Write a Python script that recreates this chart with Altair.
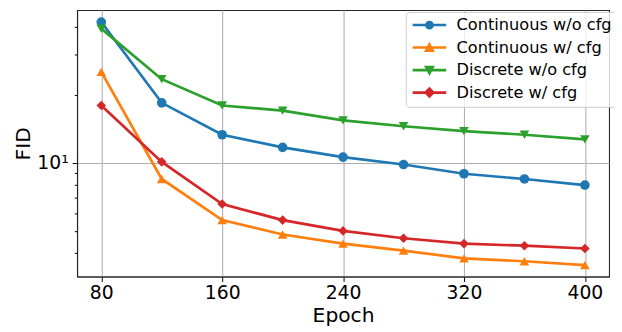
import altair as alt
import pandas as pd

epochs = [80, 120, 160, 200, 240, 280, 320, 360, 400]
series_names = ["Continuous w/o cfg", "Continuous w/ cfg", "Discrete w/o cfg", "Discrete w/ cfg"]
cont_wo = [41.8, 18.4, 13.3, 11.7, 10.6, 9.83, 8.95, 8.49, 7.98]
cont_w = [25.2, 8.49, 5.59, 4.83, 4.40, 4.10, 3.79, 3.68, 3.54]
disc_wo = [39.1, 23.4, 17.9, 17.0, 15.4, 14.5, 13.8, 13.3, 12.7]
disc_w = [17.9, 10.1, 6.58, 5.59, 5.01, 4.65, 4.40, 4.31, 4.19]
colors = ["#1f77b4", "#ff7f0e", "#2ca02c", "#d62728"]
marker_shapes = ["circle", "triangle-up", "triangle-down", "diamond"]
x_ticks = [80, 160, 240, 320, 400]
y_ticks = [4, 5, 6, 7, 8, 9, 10, 20, 30, 40]

# legend glyphs: a short line segment with the marker in the middle
seg = "M-4.25,0L4.25,0"
legend_paths = [
    seg + "M0.8,0A0.8,0.8 0 1,1 -0.8,0A0.8,0.8 0 1,1 0.8,0Z",
    seg + "M0,-0.8L-0.85,0.8L0.85,0.8Z",
    seg + "M0,0.8L-0.85,-0.8L0.85,-0.8Z",
    seg + "M0,-1L1,0L0,1L-1,0Z",
]

rows = []
for name, vals in zip(series_names, [cont_wo, cont_w, disc_wo, disc_w]):
    for e, v in zip(epochs, vals):
        rows.append({"series": name, "epoch": e, "fid": v})
df = pd.DataFrame(rows)

x = alt.X(
    "epoch:Q",
    scale=alt.Scale(domain=[64, 416], nice=False, zero=False),
    axis=alt.Axis(
        values=x_ticks, title="Epoch", grid=True, gridColor="#b0b0b0", gridWidth=1.1,
        labelFontSize=19, titleFontSize=20.5, tickSize=5, tickColor="#000",
        labelPadding=2, titlePadding=4, labelColor="#000", titleColor="#000",
        titleFontWeight="normal", domainColor="#262626", domainWidth=1.1,
        labelFlush=False, labelOverlap=False,
    ),
)
y = alt.Y(
    "fid:Q",
    scale=alt.Scale(type="log", domain=[3.15, 47.2], nice=False),
    axis=alt.Axis(
        values=y_ticks, title="FID",
        labelExpr="datum.value == 10 ? '10¹' : ''",
        grid=True, gridColor="#b0b0b0", gridWidth=1.1,
        gridOpacity={"condition": {"test": "datum.value == 10", "value": 1}, "value": 0},
        tickSize={"condition": {"test": "datum.value == 10", "value": 5}, "value": 2.8},
        tickColor="#000", labelFontSize=19, titleFontSize=20.5, labelPadding=4,
        titlePadding=3, labelColor="#000", titleColor="#000", titleFontWeight="normal",
        domainColor="#262626", domainWidth=1.1, labelFlush=False, labelOverlap=False,
        labelBound=False,
    ),
)

color = alt.Color("series:N", scale=alt.Scale(domain=series_names, range=colors), legend=None)

lines = alt.Chart(df).mark_line(strokeWidth=2.7).encode(x=x, y=y, color=color, detail="series:N")
points = alt.Chart(df).mark_point(filled=True, opacity=1, size=95).encode(
    x=x, y=y, color=color,
    shape=alt.Shape("series:N", scale=alt.Scale(domain=series_names, range=marker_shapes), legend=None),
)

leg = alt.Legend(
    title=None, orient="none", legendX=333, legendY=2, labelFontSize=16.4, labelColor="#000",
    symbolSize=64, symbolStrokeWidth=2.6, symbolOffset=10.8, labelOffset=19.3, padding=5,
    rowPadding=4.8, fillColor="rgba(255,255,255,0.8)", strokeColor="#cccccc", cornerRadius=3,
    symbolOpacity=1,
)
legend_layer = alt.Chart(df).transform_filter("false").mark_point(
    filled=True, opacity=1, size=64, strokeWidth=2.6
).encode(
    x=x, y=y,
    fill=alt.Fill("series:N", scale=alt.Scale(domain=series_names, range=colors), legend=leg),
    stroke=alt.Stroke("series:N", scale=alt.Scale(domain=series_names, range=colors), legend=leg),
    shape=alt.Shape("series:N", scale=alt.Scale(domain=series_names, range=legend_paths), legend=leg),
)

chart = (
    alt.layer(lines, points, legend_layer)
    .resolve_scale(shape="independent", fill="independent", stroke="independent")
    .properties(
        width=539, height=270,
        autosize=alt.AutoSizeParams(type="none"),
        padding={"left": 70, "top": 0, "right": 5, "bottom": 50},
    )
    .configure(font="DejaVu Sans")
    .configure_view(stroke="#262626", strokeWidth=1.1)
)

chart.save("out.html", embed_options={"renderer": "svg", "actions": False})
